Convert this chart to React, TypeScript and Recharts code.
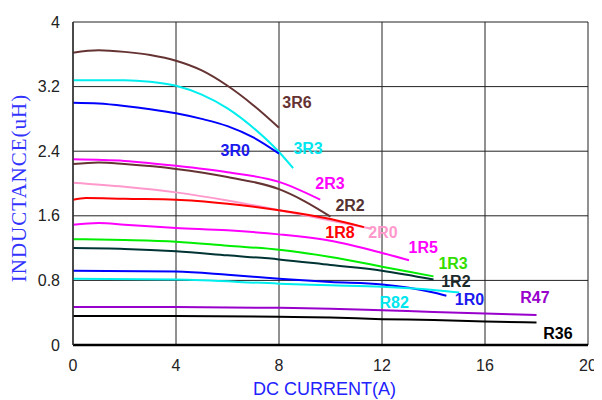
import React from "react";
import {
  LineChart,
  Line,
  XAxis,
  YAxis,
  CartesianGrid,
  ReferenceDot,
  Label,
} from "recharts";

// inductance (uH) vs DC current (A), one small list per part
const s3R6 = [
  { a: 0, uh: 3.62 }, { a: 1, uh: 3.65 }, { a: 2, uh: 3.63 }, { a: 3, uh: 3.59 },
  { a: 4, uh: 3.52 }, { a: 5, uh: 3.4 }, { a: 6, uh: 3.21 }, { a: 7, uh: 2.97 },
  { a: 8, uh: 2.69 },
];
const s3R3 = [
  { a: 0, uh: 3.28 }, { a: 1, uh: 3.28 }, { a: 2, uh: 3.28 }, { a: 3, uh: 3.26 },
  { a: 4, uh: 3.21 }, { a: 5, uh: 3.1 }, { a: 6, uh: 2.93 }, { a: 7, uh: 2.69 },
  { a: 8, uh: 2.39 }, { a: 8.55, uh: 2.19 },
];
const s3R0 = [
  { a: 0, uh: 3.0 }, { a: 1, uh: 2.99 }, { a: 2, uh: 2.96 }, { a: 3, uh: 2.92 },
  { a: 4, uh: 2.87 }, { a: 5, uh: 2.8 }, { a: 6, uh: 2.71 }, { a: 7, uh: 2.57 },
  { a: 8, uh: 2.37 },
];
const s2R3 = [
  { a: 0, uh: 2.3 }, { a: 2, uh: 2.28 }, { a: 4, uh: 2.22 }, { a: 6, uh: 2.14 },
  { a: 8, uh: 2.02 }, { a: 9.6, uh: 1.8 },
];
const s2R2 = [
  { a: 0, uh: 2.24 }, { a: 1, uh: 2.26 }, { a: 2, uh: 2.24 }, { a: 4, uh: 2.18 },
  { a: 6, uh: 2.08 }, { a: 8, uh: 1.93 }, { a: 9, uh: 1.78 }, { a: 10, uh: 1.59 },
];
const s2R0 = [
  { a: 0, uh: 2.01 }, { a: 2, uh: 1.96 }, { a: 4, uh: 1.89 }, { a: 6, uh: 1.79 },
  { a: 8, uh: 1.67 }, { a: 10, uh: 1.54 }, { a: 11.6, uh: 1.44 },
];
const s1R8 = [
  { a: 0, uh: 1.8 }, { a: 0.5, uh: 1.82 }, { a: 2, uh: 1.81 }, { a: 4, uh: 1.8 },
  { a: 6, uh: 1.75 }, { a: 8, uh: 1.67 }, { a: 10, uh: 1.56 }, { a: 11.3, uh: 1.46 },
];
const s1R5 = [
  { a: 0, uh: 1.49 }, { a: 1, uh: 1.51 }, { a: 2, uh: 1.49 }, { a: 4, uh: 1.45 },
  { a: 6, uh: 1.42 }, { a: 8, uh: 1.37 }, { a: 10, uh: 1.29 }, { a: 12, uh: 1.14 },
  { a: 13.05, uh: 1.05 },
];
const s1R3 = [
  { a: 0, uh: 1.31 }, { a: 2, uh: 1.3 }, { a: 4, uh: 1.28 }, { a: 6, uh: 1.23 },
  { a: 8, uh: 1.18 }, { a: 10, uh: 1.09 }, { a: 12, uh: 0.97 }, { a: 14, uh: 0.85 },
];
const s1R2 = [
  { a: 0, uh: 1.2 }, { a: 2, uh: 1.19 }, { a: 4, uh: 1.16 }, { a: 6, uh: 1.11 },
  { a: 8, uh: 1.06 }, { a: 10, uh: 0.99 }, { a: 12, uh: 0.92 }, { a: 14, uh: 0.81 },
];
const s1R0 = [
  { a: 0, uh: 0.92 }, { a: 4, uh: 0.91 }, { a: 6, uh: 0.87 }, { a: 8, uh: 0.82 },
  { a: 10, uh: 0.78 }, { a: 12, uh: 0.75 }, { a: 14, uh: 0.65 }, { a: 14.5, uh: 0.61 },
];
const sR82 = [
  { a: 0, uh: 0.82 }, { a: 4, uh: 0.81 }, { a: 8, uh: 0.76 }, { a: 10, uh: 0.74 },
  { a: 12, uh: 0.72 }, { a: 14, uh: 0.68 }, { a: 15, uh: 0.65 },
];
const sR47 = [
  { a: 0, uh: 0.47 }, { a: 4, uh: 0.47 }, { a: 8, uh: 0.46 }, { a: 10, uh: 0.45 },
  { a: 12, uh: 0.43 }, { a: 14, uh: 0.41 }, { a: 16, uh: 0.39 }, { a: 18, uh: 0.37 },
];
const sR36 = [
  { a: 0, uh: 0.36 }, { a: 4, uh: 0.36 }, { a: 8, uh: 0.35 }, { a: 10, uh: 0.34 },
  { a: 12, uh: 0.32 }, { a: 14, uh: 0.31 }, { a: 16, uh: 0.29 }, { a: 18, uh: 0.28 },
];

const xTicks = [0, 4, 8, 12, 16, 20];
const yTicks = [0, 0.8, 1.6, 2.4, 3.2, 4];

const series = [
  { name: "3R6", data: s3R6, color: "#663333" },
  { name: "3R3", data: s3R3, color: "#00eeee" },
  { name: "3R0", data: s3R0, color: "#0000ff" },
  { name: "2R3", data: s2R3, color: "#ff00ff" },
  { name: "2R2", data: s2R2, color: "#663333" },
  { name: "2R0", data: s2R0, color: "#ff99cc" },
  { name: "1R8", data: s1R8, color: "#ff0000" },
  { name: "1R5", data: s1R5, color: "#ff00ff" },
  { name: "1R3", data: s1R3, color: "#00ee00" },
  { name: "1R2", data: s1R2, color: "#003333" },
  { name: "1R0", data: s1R0, color: "#0000ff" },
  { name: "R82", data: sR82, color: "#00eeee" },
  { name: "R47", data: sR47, color: "#9900cc" },
  { name: "R36", data: sR36, color: "#000000" },
];

// where each part name sits (data units)
const tagSpots = [
  { name: "3R6", a: 8.7, uh: 3.0, color: "#663333" },
  { name: "3R3", a: 9.13, uh: 2.44, color: "#00e5ee" },
  { name: "3R0", a: 6.3, uh: 2.41, color: "#1a1aee" },
  { name: "2R3", a: 9.98, uh: 2.0, color: "#ff00ff" },
  { name: "2R2", a: 10.76, uh: 1.73, color: "#553333" },
  { name: "1R8", a: 10.37, uh: 1.39, color: "#ff0000" },
  { name: "2R0", a: 12.04, uh: 1.39, color: "#ff99cc" },
  { name: "1R5", a: 13.6, uh: 1.21, color: "#ff00ff" },
  { name: "1R3", a: 14.76, uh: 1.01, color: "#33dd00" },
  { name: "1R2", a: 14.87, uh: 0.79, color: "#1a2a2a" },
  { name: "1R0", a: 15.4, uh: 0.56, color: "#1a1aee" },
  { name: "R82", a: 12.47, uh: 0.53, color: "#00e5ee" },
  { name: "R47", a: 17.94, uh: 0.59, color: "#9900cc" },
  { name: "R36", a: 18.83, uh: 0.15, color: "#000000" },
];

const tickStyle = { fontFamily: "Liberation Sans, Arial", fontSize: 16, fill: "#222" };

export default function App() {
  return (
    <LineChart
      width={594}
      height={392}
      margin={{ top: 14, right: 14, left: 0, bottom: 0 }}
    >
      <CartesianGrid stroke="#222" strokeWidth={1} />
      <XAxis
        type="number"
        dataKey="a"
        domain={[0, 20]}
        ticks={xTicks}
        allowDuplicatedCategory={false}
        height={55}
        tickLine={false}
        tickMargin={9}
        axisLine={{ stroke: "#000", strokeWidth: 2.5 }}
        tick={tickStyle}
      >
        <Label
          content={({ viewBox }: any) => (
            <text
              x={viewBox.x + viewBox.width / 2 - 6}
              y={viewBox.y + 50}
              textAnchor="middle"
              fill="#2222ff"
              fontFamily="Liberation Sans, Arial"
              fontSize={18}
            >
              DC CURRENT(A)
            </text>
          )}
        />
      </XAxis>
      <YAxis
        type="number"
        dataKey="uh"
        domain={[0, 4]}
        ticks={yTicks}
        width={65}
        tickLine={false}
        tickMargin={7}
        axisLine={{ stroke: "#333", strokeWidth: 1.5 }}
        tick={tickStyle}
      >
        <Label
          content={({ viewBox }: any) => {
            const cx = 11;
            const cy = 180;
            return (
              <text
                x={cx}
                y={cy}
                transform={`rotate(-90, ${cx}, ${cy})`}
                textAnchor="middle"
                dominantBaseline="central"
                fill="#3333ff"
                fontFamily="Liberation Serif, Times New Roman"
                fontSize={21}
                letterSpacing={1}
              >
                INDUCTANCE(uH)
              </text>
            );
          }}
        />
      </YAxis>
      {series.map((s) => (
        <Line
          key={s.name}
          data={s.data}
          dataKey="uh"
          type="monotone"
          stroke={s.color}
          strokeWidth={2}
          dot={false}
          isAnimationActive={false}
        />
      ))}
      {tagSpots.map((t) => (
        <ReferenceDot
          key={t.name}
          x={t.a}
          y={t.uh}
          r={0}
          fill="none"
          stroke="none"
          label={{
            value: t.name,
            position: "center",
            fill: t.color,
            fontFamily: "Liberation Sans, Arial",
            fontWeight: "bold",
            fontSize: 16,
          }}
        />
      ))}
    </LineChart>
  );
}
